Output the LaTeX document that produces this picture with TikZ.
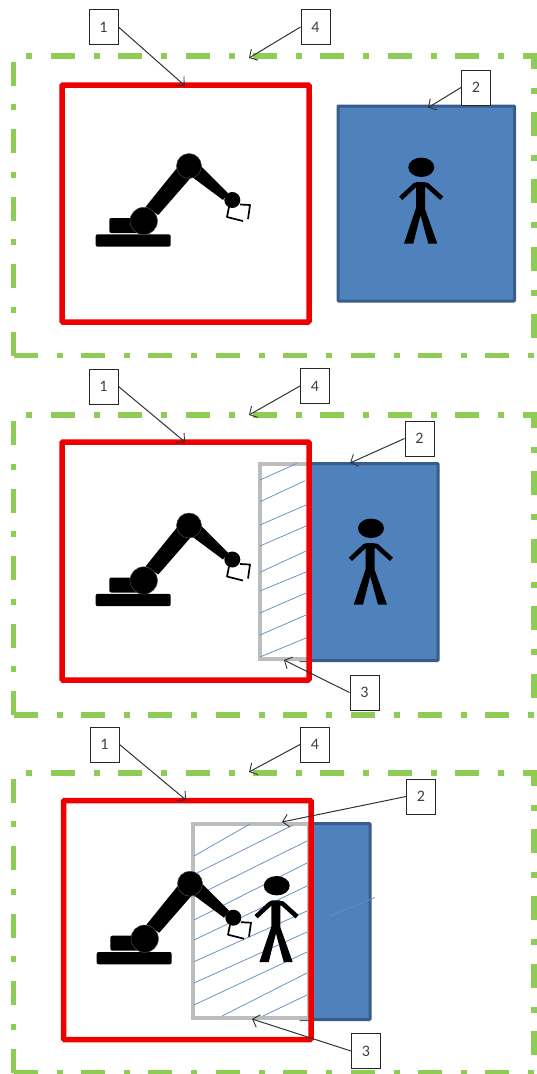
\documentclass[tikz,border=0pt]{standalone}
\usepackage{fontspec}
\setmainfont{Carlito}
\usetikzlibrary{arrows.meta}
\definecolor{gframe}{HTML}{8FCC55}
\definecolor{rframe}{HTML}{EE0000}
\definecolor{bfill}{HTML}{4F81BD}
\definecolor{bline}{HTML}{385D8A}
\definecolor{gbox}{HTML}{BDBDBD}
\definecolor{hatchc}{HTML}{6E94C6}
\tikzset{
  greenline/.style={draw=gframe,line width=5.6pt,line cap=butt,miter limit=10,
    dash pattern=on 24pt off 19pt on 6pt off 18.4pt},
  redbox/.style={draw=rframe,line width=5.5pt,rounded corners=1pt},
  bluebox/.style={fill=bfill,draw=bline,line width=3pt,rounded corners=0.8pt},
  graybox/.style={draw=gbox,fill=white,line width=4pt},
  hatchline/.style={draw=hatchc,line width=0.8pt},
  numbox/.style={draw=black!85,fill=white,line width=1pt,minimum width=29pt,minimum height=35pt,
    inner sep=0pt,font=\fontsize{16}{16}\selectfont,text=black!75},
  callout/.style={draw=black!80,line width=1pt,-{Straight Barb[length=6pt,width=13pt,line width=0.9pt]}},
  frame/.pic={
    \draw[greenline] (13.5,355.5) -- (13.5,55.7) -- (533.7,55.7) -- (533.7,355.5);
    \draw[greenline] (13.5,355.5) -- (533.7,355.5);
  },
  robot/.pic={
    \fill[black,rounded corners=2pt] (95.7,234.3) rectangle (170.7,246.7);
    \fill[black,rounded corners=2pt] (109.3,218) rectangle (150,233);
    \fill[black] (145.7,206.7) -- (176.7,168.3) -- (191.7,176.7) -- (158.3,215) -- cycle;
    \fill[black] (201.7,166.7) -- (228,193) -- (223,200) -- (191.7,176.7) -- cycle;
    \draw[black,line width=1.7pt,line join=round] (229,207) -- (227,217) -- (243,221);
    \draw[black,line width=1.7pt,line join=round] (240,204.5) -- (250,205) -- (248,219);
    \filldraw[fill=black,draw=black!70,line width=0.5pt] (143.7,221) circle (13.7);
    \filldraw[fill=black,draw=black!70,line width=0.5pt] (189,166) circle (12.5);
    \fill[black] (232.3,200) circle (8);
  },
  man/.pic={
    \fill[black] (421.3,167.3) ellipse (13 and 9.7);
    \fill[black] (416,182) -- (425,182) -- (425,209) -- (437.3,243.7) -- (428.3,243.7)
      -- (420.5,215) -- (413.3,243.7) -- (404,243.7) -- (416,208) -- cycle;
    \draw[black,line width=4.6pt,line join=round] (400.7,198.3) -- (415,185) -- (427,185) -- (441.7,198.3);
  }
}
\begin{document}
\begin{tikzpicture}[x=1pt,y=-1pt]
\useasboundingbox (0,0) rectangle (536,1074);
\fill[white] (0,0) rectangle (536,1074);

% Panel 1
\pic at (0,0) {frame};
\draw[bluebox] (338,106) rectangle (514.5,301);
\draw[redbox] (62,85) rectangle (309,322);
\pic at (0,0) {robot};
\pic at (0,0) {man};
\node[numbox] (a1) at (103.5,27) {1};
\node[numbox] (a4) at (315.5,27) {4};
\node[numbox] (a2) at (476,87.5) {2};
\coordinate (a1t) at (184.6,85.5);
\coordinate (a4t) at (249,58);
\coordinate (a2t) at (428,107.7);
\draw[callout] (a1.east) -- (a1t);
\draw[callout] (a4.west) -- (a4t);
\draw[callout] (a2.west) -- (a2t);

% Panel 2
\pic at (0,359.5) {frame};
\draw[bluebox] (300,463.5) rectangle (438,660.5);
\draw[graybox] (259.5,464) rectangle (309,658.5);
\foreach \ya/\xb/\yb in {480/296.7/463.5,501.7/305/480.7,525/306/505,546/306/526,572.3/306/551,591/306/572,613/306/593,635/306/615,657/306/638}
  \draw[hatchline] (260,\ya) -- (\xb,\yb);
\draw[redbox] (62,442) rectangle (309,680);
\pic at (0,359.5) {robot};
\pic at (-50.3,361) {man};
\node[numbox] (b1) at (103.5,386.5) {1};
\node[numbox] (b4) at (315,386) {4};
\node[numbox] (b2) at (419.5,438.5) {2};
\node[numbox] (b3) at (364.5,692.5) {3};
\coordinate (b1t) at (185,442);
\coordinate (b4t) at (249,415);
\coordinate (b2t) at (350,463);
\coordinate (b3t) at (284,660);
\draw[callout] (b1.east) -- (b1t);
\draw[callout] (b4.west) -- (b4t);
\draw[callout] (b2.west) -- (b2t);
\draw[callout] (b3.west) -- (b3t);

% Panel 3
\pic at (0,717) {frame};
\draw[bluebox] (300,823.5) rectangle (370,1019.5);
\draw[draw=hatchc!70!bfill,line width=0.7pt] (330,916) -- (375,897.5);
\draw[graybox] (192.5,824) rectangle (309,1018);
\foreach \xa/\ya/\xb/\yb in {194/856/250/824,194/897/307/841,194/920/307/863,194/940/307/886,194/961.7/307/911,194/983/307/932,194/1005/307/952,222/1016/307/973,263/1016/307/995,197/873/293/825}
  \draw[hatchline] (\xa,\ya) -- (\xb,\yb);
\draw[redbox] (63.5,800.5) rectangle (311,1039.5);
\pic at (1,717.7) {robot};
\pic at (-144.6,718.4) {man};
\node[numbox] (c1) at (104.5,744.5) {1};
\node[numbox] (c4) at (315,744.5) {4};
\node[numbox] (c2) at (421,796.5) {2};
\node[numbox] (c3) at (366,1051) {3};
\coordinate (c1t) at (186,800);
\coordinate (c4t) at (249,772);
\coordinate (c2t) at (282,822);
\coordinate (c3t) at (252,1019);
\draw[callout] (c1.east) -- (c1t);
\draw[callout] (c4.west) -- (c4t);
\draw[callout] (c2.west) -- (c2t);
\draw[callout] (c3.west) -- (c3t);
\end{tikzpicture}
\end{document}
